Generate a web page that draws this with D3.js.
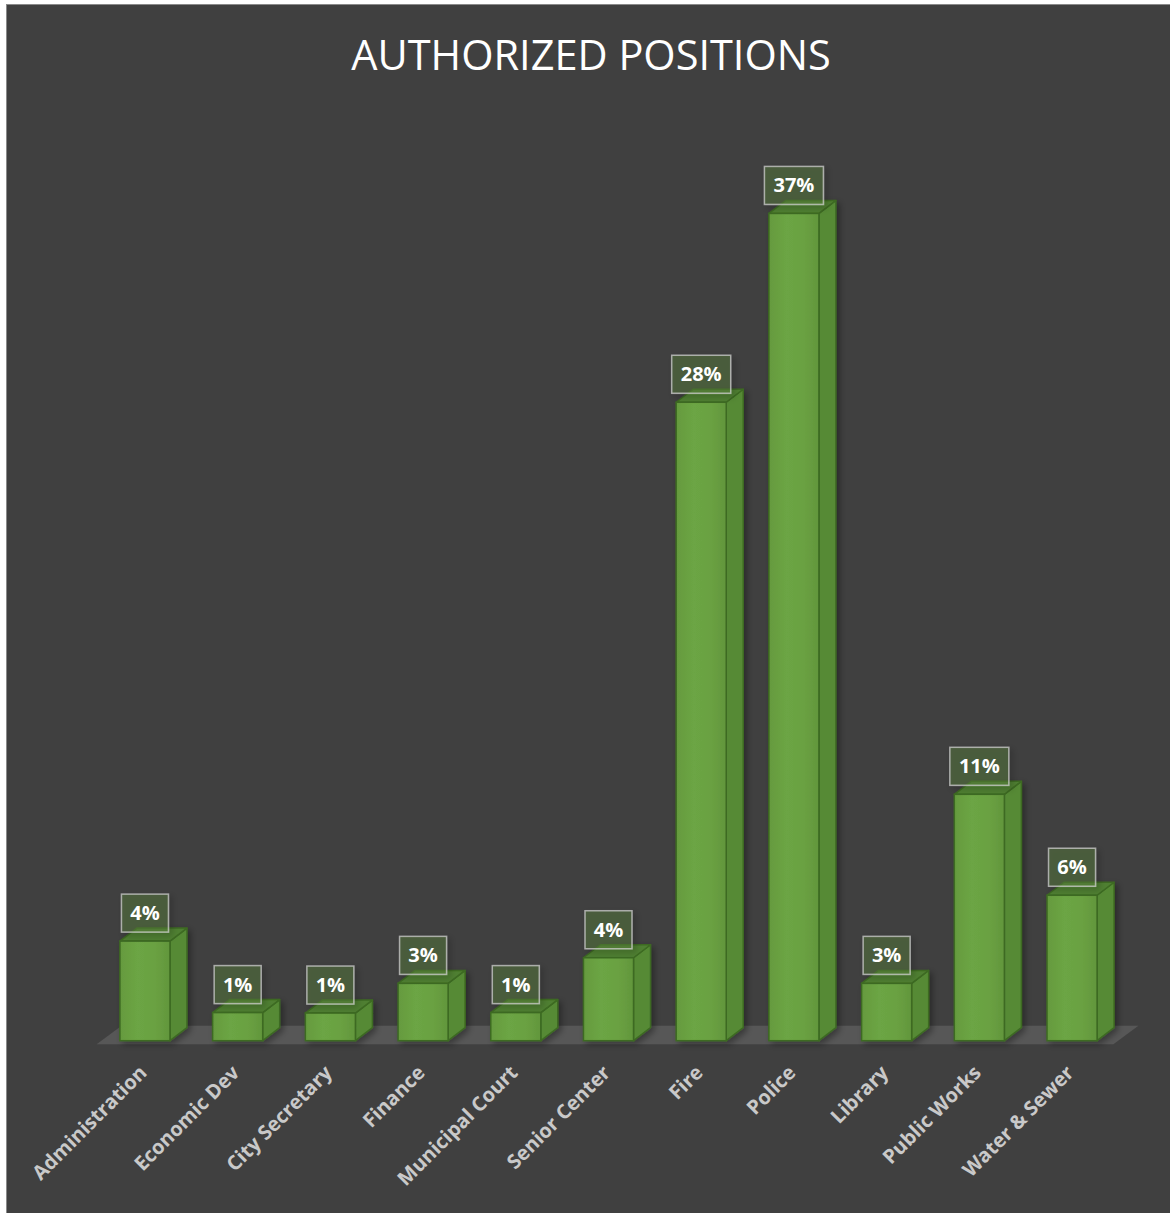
<!DOCTYPE html>
<html>
<head>
<meta charset="utf-8">
<script src="https://cdnjs.cloudflare.com/ajax/libs/d3/7.8.5/d3.min.js"></script>
<style>
	body { margin: 0; background: #ffffff; }
	svg { display: block; }
</style>
</head>
<body>
<div id="chart"></div>
<script>
var departments = ["Administration", "Economic Dev", "City Secretary", "Finance", "Municipal Court",
	"Senior Center", "Fire", "Police", "Library", "Public Works", "Water & Sewer"];
// share of authorized positions, in percent
var shares = [4.43, 1.25, 1.23, 2.55, 1.25, 3.69, 28.4, 36.8, 2.55, 10.96, 6.47];
var yMax = 40;

var width = 1170, height = 1213;
var base = 1040.7;      // front bottom edge of the bars
var depthX = 17, depthY = 13;

var svg = d3.select("#chart").append("svg")
		.attr("width", width)
		.attr("height", height);

var defs = svg.append("defs");
var frontGrad = defs.append("linearGradient")
		.attr("id", "frontGrad")
		.attr("x1", "0%").attr("x2", "100%")
		.attr("y1", "0%").attr("y2", "0%");
frontGrad.append("stop").attr("offset", "0%").attr("stop-color", "#659a3e");
frontGrad.append("stop").attr("offset", "35%").attr("stop-color", "#6ca544");
frontGrad.append("stop").attr("offset", "70%").attr("stop-color", "#6aa142");
frontGrad.append("stop").attr("offset", "100%").attr("stop-color", "#62963c");

var shadow = defs.append("filter").attr("id", "shadow")
		.attr("x", "-30%").attr("y", "-30%").attr("width", "160%").attr("height", "160%");
shadow.append("feDropShadow")
		.attr("dx", 3).attr("dy", 3).attr("stdDeviation", 3)
		.attr("flood-color", "#000").attr("flood-opacity", 0.35);

// panel
svg.append("rect")
		.attr("x", 6.5)
		.attr("y", 4.5)
		.attr("width", width)
		.attr("height", height)
		.attr("fill", "#404040")
		.attr("stroke", "#8a8a8a")
		.attr("stroke-width", 1);

svg.append("text")
		.attr("x", 591)
		.attr("y", 70)
		.attr("text-anchor", "middle")
		.style("font-family", "'Open Sans', sans-serif")
		.style("font-size", "41.5px")
		.style("fill", "#ffffff")
		.text("AUTHORIZED POSITIONS");

var x = d3.scaleBand()
		.domain(departments)
		.range([98.6, 1118.4])
		.paddingInner(0.46)
		.paddingOuter(0.23);

var y = d3.scaleLinear()
		.domain([0, yMax])
		.range([base, base - yMax * 22.48]);

var data = departments.map(function(d, i) { return {name: d, value: shares[i]}; });

// floor
var r = x.range();
svg.append("polygon")
		.attr("points", [
			[r[0] - 2, base + 3.5],
			[r[1] - 5, base + 3.5],
			[r[1] + 20, base - 15],
			[r[0] + 23, base - 15]
		].join(" "))
		.attr("fill", "#575757");

var bw = x.bandwidth();
var bars = svg.append("g").attr("id", "bars")
		.selectAll("g")
		.data(data)
		.enter()
		.append("g")
		.attr("filter", "url(#shadow)");

bars.append("polygon")
		.attr("points", function(d) {
			var x0 = x(d.name) + bw, y0 = y(d.value);
			return [[x0, y0], [x0 + depthX, y0 - depthY], [x0 + depthX, base - depthY], [x0, base]].join(" ");
		})
		.attr("fill", "#568a36")
		.attr("stroke", "#3d6a22")
		.attr("stroke-width", 1.5)
		.attr("stroke-linejoin", "round");

bars.append("polygon")
		.attr("points", function(d) {
			var x0 = x(d.name), y0 = y(d.value);
			return [[x0, y0], [x0 + depthX, y0 - depthY], [x0 + bw + depthX, y0 - depthY], [x0 + bw, y0]].join(" ");
		})
		.attr("fill", "#4f7f31")
		.attr("stroke", "#3d6a22")
		.attr("stroke-width", 1.5)
		.attr("stroke-linejoin", "round");

bars.append("rect")
		.attr("x", function(d) { return x(d.name); })
		.attr("y", function(d) { return y(d.value); })
		.attr("width", bw)
		.attr("height", function(d) { return base - y(d.value); })
		.attr("fill", "url(#frontGrad)")
		.attr("stroke", "#3d6a22")
		.attr("stroke-width", 1.5);

// data labels
var labels = svg.append("g").attr("id", "labels")
		.selectAll("g")
		.data(data)
		.enter()
		.append("g");

labels.append("rect")
		.attr("x", function(d) {
			var w = Math.round(d.value) >= 10 ? 59 : 47;
			return x(d.name) + bw / 2 - w / 2;
		})
		.attr("y", function(d) { return y(d.value) - 9 - 38; })
		.attr("width", function(d) { return Math.round(d.value) >= 10 ? 59 : 47; })
		.attr("height", 38)
		.attr("fill", "rgba(90,130,60,0.42)")
		.attr("stroke", "rgba(205,205,205,0.75)")
		.attr("stroke-width", 1.5)
		.attr("filter", "url(#shadow)");

labels.append("text")
		.attr("x", function(d) { return x(d.name) + bw / 2; })
		.attr("y", function(d) { return y(d.value) - 9 - 12; })
		.attr("text-anchor", "middle")
		.style("font-family", "'Open Sans', sans-serif")
		.style("font-weight", "bold")
		.style("font-size", "20px")
		.style("fill", "#ffffff")
		.text(function(d) { return Math.round(d.value) + "%"; });

// category labels
svg.append("g").attr("id", "categories")
		.selectAll("text")
		.data(departments)
		.enter()
		.append("text")
		.attr("transform", function(d) {
			return "translate(" + (x(d) + bw / 2 + 3) + "," + 1074 + ") rotate(-45)";
		})
		.attr("text-anchor", "end")
		.style("font-family", "'Open Sans', sans-serif")
		.style("font-weight", 700)
		.style("font-size", "20px")
		.style("fill", "#c9c9c9")
		.text(function(d) { return d; });
</script>
</body>
</html>
